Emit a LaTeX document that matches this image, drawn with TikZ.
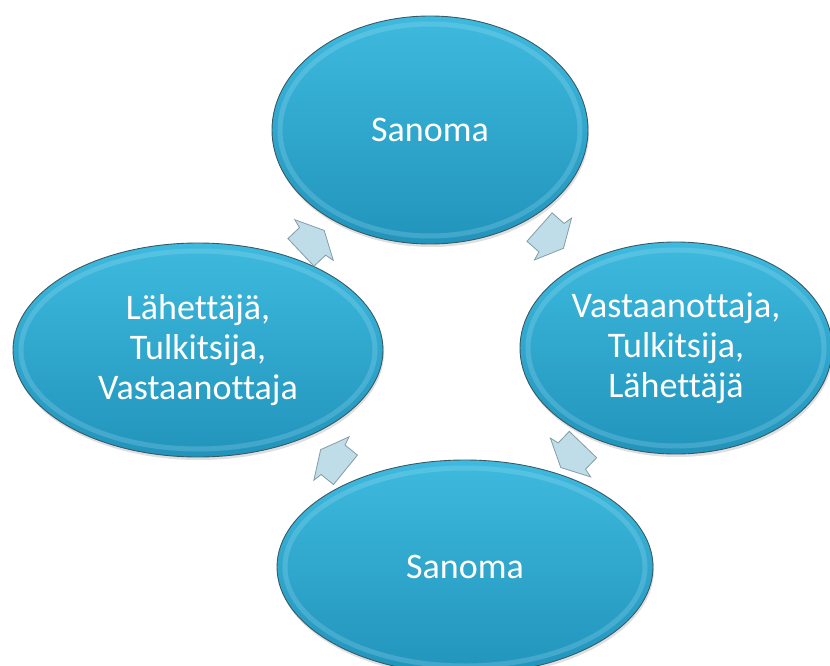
\documentclass[tikz,border=0pt]{standalone}
\usepackage{fontspec}
\setmainfont{Carlito}[Ligatures=NoCommon]
\usetikzlibrary{shapes.geometric, shadows}

\definecolor{bubbletop}{RGB}{62,186,222}
\definecolor{bubblebot}{RGB}{34,148,188}
\definecolor{bubbleline}{RGB}{56,90,102}
\definecolor{arrowfill}{RGB}{190,221,233}
\definecolor{arrowline}{RGB}{132,156,166}

\begin{document}
\begin{tikzpicture}[
    x=1pt, y=-1pt,
    bubble/.style={
      ellipse, draw=bubbleline, line width=0.9pt, inner sep=0pt,
      top color=bubbletop, bottom color=bubblebot,
      text=white, font=\fontsize{36}{40}\selectfont, align=center,
      drop shadow={opacity=0.25, shadow xshift=1pt, shadow yshift=-3pt},
    },
    rim/.style={draw=cyan!30!white, line width=5pt, opacity=0.22},
    cyclearrow/.pic={
      \draw[fill=arrowfill, draw=arrowline, line width=0.8pt]
        (-18,19) -- (-2,19) -- (0,28) -- (14,0) -- (0,-28) -- (-2,-19) -- (-18,-19) -- cycle;
    },
  ]
  \useasboundingbox (0,0) rectangle (830,666);

  % ellipses
  \node[bubble, minimum width=316pt, minimum height=228pt] (msgtop) at (430,130) {Sanoma};
  \node[bubble, minimum width=312pt, minimum height=212pt] (receiver) at (676,348)
    {Vastaanottaja,\\Tulkitsija,\\Lähettäjä};
  \node[bubble, minimum width=376pt, minimum height=214pt] (msgbottom) at (465,567) {Sanoma};
  \node[bubble, minimum width=370pt, minimum height=214pt] (sender) at (198,350)
    {Lähettäjä,\\Tulkitsija,\\Vastaanottaja};

  % bevel
  \foreach \n/\w/\h in {msgtop/316/228, receiver/312/212, msgbottom/376/214, sender/370/214}
    \draw[rim] (\n.center) ellipse [x radius=\w/2-8, y radius=\h/2-8];

  % arrows
  \path (msgtop.center) -- (receiver.center) pic[midway, sloped, allow upside down] {cyclearrow};
  \path (receiver.center) -- (msgbottom.center) pic[midway, sloped, allow upside down] {cyclearrow};
  \path (msgbottom.center) -- (sender.center) pic[midway, sloped, allow upside down] {cyclearrow};
  \path (sender.center) -- (msgtop.center) pic[midway, sloped, allow upside down] {cyclearrow};
\end{tikzpicture}
\end{document}
